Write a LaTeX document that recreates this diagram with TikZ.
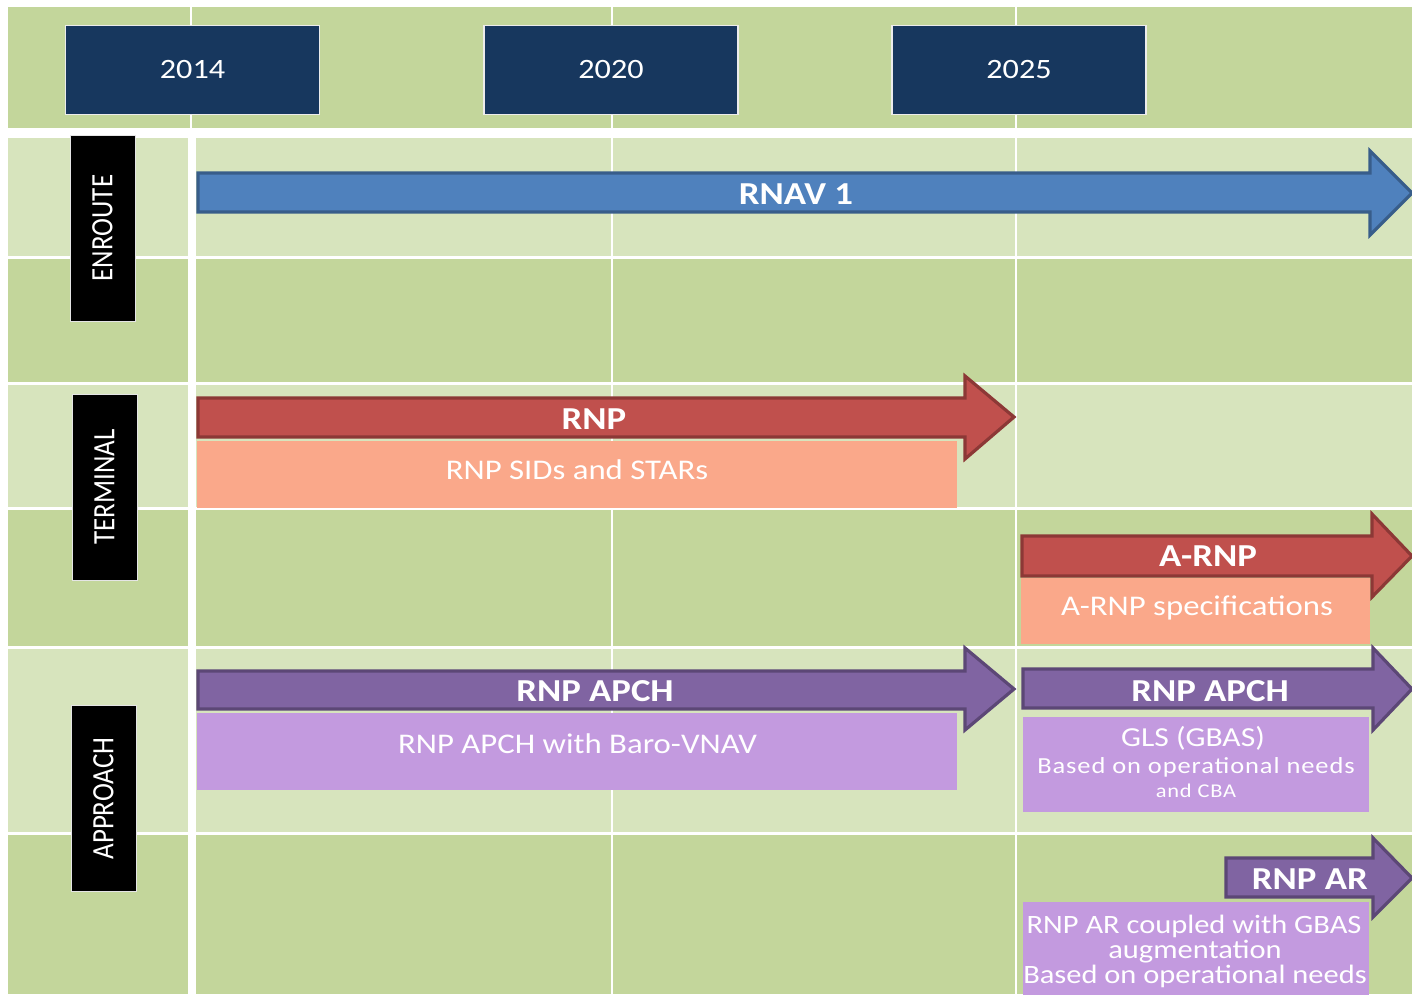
\documentclass[tikz,border=0pt]{standalone}
\usepackage{fontspec}
\setmainfont{Carlito}[FakeStretch=1.15]
\newfontfamily\lblfont{Carlito}
\newfontfamily\spacedfont{Carlito}[FakeStretch=1.15,LetterSpace=4]
\definecolor{hdr}{HTML}{C3D69B}
\definecolor{lite}{HTML}{D7E4BD}
\definecolor{dark}{HTML}{C3D69B}
\definecolor{navy}{HTML}{17375E}
\definecolor{bluef}{HTML}{4F81BD}
\definecolor{blued}{HTML}{385D8A}
\definecolor{redf}{HTML}{C0504D}
\definecolor{redd}{HTML}{8C3836}
\definecolor{purf}{HTML}{8064A2}
\definecolor{purd}{HTML}{5C4776}
\definecolor{salmon}{HTML}{FAA88A}
\definecolor{lav}{HTML}{C39ADF}
\tikzset{
  yearbox/.style={fill=navy, draw=white!85!gray, line width=1.2pt, minimum width=254pt, minimum height=89pt, inner sep=0pt, text=white, font=\fontsize{28}{33}\selectfont},
  catbox/.style={fill=black, draw=white!80!gray, line width=1pt, rotate=90, minimum width=186pt, minimum height=65pt, inner sep=0pt, text=white, font=\lblfont\fontsize{27}{32}\selectfont},
  boldlbl/.style={inner sep=0pt, anchor=base, text=white, font=\bfseries\fontsize{32}{38}\selectfont},
  sublbl/.style={inner sep=0pt, anchor=base, text=white, font=\fontsize{28.5}{34}\selectfont},
  arrblue/.style={fill=bluef, draw=blued, line width=3.2pt, line join=miter},
  arrred/.style={fill=redf, draw=redd, line width=3.2pt, line join=miter},
  arrpur/.style={fill=purf, draw=purd, line width=3.2pt, line join=miter},
}
\begin{document}
\begin{tikzpicture}[x=1pt,y=-1pt]
\useasboundingbox (0,0) rectangle (1412,994);
\fill[white] (0,0) rectangle (1412,994);
% header cells
\fill[hdr] (8,7) rectangle (190,128);
\fill[hdr] (192,7) rectangle (611,128);
\fill[hdr] (613,7) rectangle (1015,128);
\fill[hdr] (1017,7) rectangle (1412,128);
% body cells
\foreach \a/\b/\c in {138/256/lite, 259/382/dark, 385/507/lite, 510/646/dark, 649/832/lite, 835/994/dark}{
  \fill[\c] (8,\a) rectangle (188,\b);
  \fill[\c] (196,\a) rectangle (611,\b);
  \fill[\c] (613,\a) rectangle (1015,\b);
  \fill[\c] (1017,\a) rectangle (1412,\b);
}
% years
\node[yearbox] (y2014) at (192.5,70) {2014};
\node[yearbox] (y2020) at (611,70) {2020};
\node[yearbox] (y2025) at (1019,70) {2025};
% categories
\node[catbox] (enroute) at (102.5,228) {\scalebox{1}[1.15]{ENROUTE}};
\node[catbox] (terminal) at (104.5,487) {\scalebox{1}[1.15]{TERMINAL}};
\node[catbox] (approach) at (103.5,798.5) {\scalebox{1}[1.15]{APPROACH}};
% boxes
\fill[salmon] (197,441) rectangle (957,508);
\node[sublbl] (sids) at (577,479) {RNP SIDs and STARs};
\fill[salmon] (1021,578) rectangle (1370,644);
\node[sublbl] (arnpspec) at (1197,615) {A-RNP specifications};
\fill[lav] (197,713) rectangle (957,790);
\node[sublbl] (baro) at (577.5,753) {RNP APCH with Baro-VNAV};
\fill[lav] (1023,717) rectangle (1369,812);
\node[sublbl, font=\fontsize{27.5}{33}\selectfont] (gls) at (1193,746) {GLS (GBAS)};
\node[sublbl, font=\spacedfont\fontsize{23}{28}\selectfont] (glsb) at (1196,773) {Based on operational needs};
\node[sublbl, font=\spacedfont\fontsize{19.5}{24}\selectfont] (glsc) at (1196,797) {and CBA};
\fill[lav] (1023,902) rectangle (1369,1000);
\node[sublbl, font=\fontsize{26.5}{32}\selectfont] (ara) at (1194,933) {RNP AR coupled with GBAS};
\node[sublbl, font=\fontsize{26.5}{32}\selectfont] (arb) at (1195,958) {augmentation};
\node[sublbl, font=\fontsize{26.5}{32}\selectfont] (arc) at (1195,983) {Based on operational needs};
% arrows
\draw[arrblue] (198,173) -- (1370,173) -- (1370,151) -- (1412,193) -- (1370,235) -- (1370,212) -- (198,212) -- cycle;
\node[boldlbl] (rnav) at (796,204) {RNAV 1};
\draw[arrred] (198,398) -- (965,398) -- (965,376) -- (1014,417) -- (965,459) -- (965,437) -- (198,437) -- cycle;
\node[boldlbl] (rnp) at (594,429) {RNP};
\draw[arrred] (1022,536) -- (1372,536) -- (1372,514) -- (1412,556) -- (1372,597) -- (1372,576) -- (1022,576) -- cycle;
\node[boldlbl] (arnp) at (1208,566) {A-RNP};
\draw[arrpur] (198,671) -- (965,671) -- (965,648) -- (1014,689) -- (965,730) -- (965,709) -- (198,709) -- cycle;
\node[boldlbl] (apch1) at (595,701) {RNP APCH};
\draw[arrpur] (1023,669) -- (1373,669) -- (1373,648) -- (1412,689) -- (1373,730) -- (1373,708) -- (1023,708) -- cycle;
\node[boldlbl] (apch2) at (1210,701) {RNP APCH};
\draw[arrpur] (1226,858) -- (1373,858) -- (1373,838) -- (1412,878) -- (1373,917) -- (1373,897) -- (1226,897) -- cycle;
\node[boldlbl, anchor=base east] (rnpar) at (1368,889) {RNP AR};
\end{tikzpicture}
\end{document}
